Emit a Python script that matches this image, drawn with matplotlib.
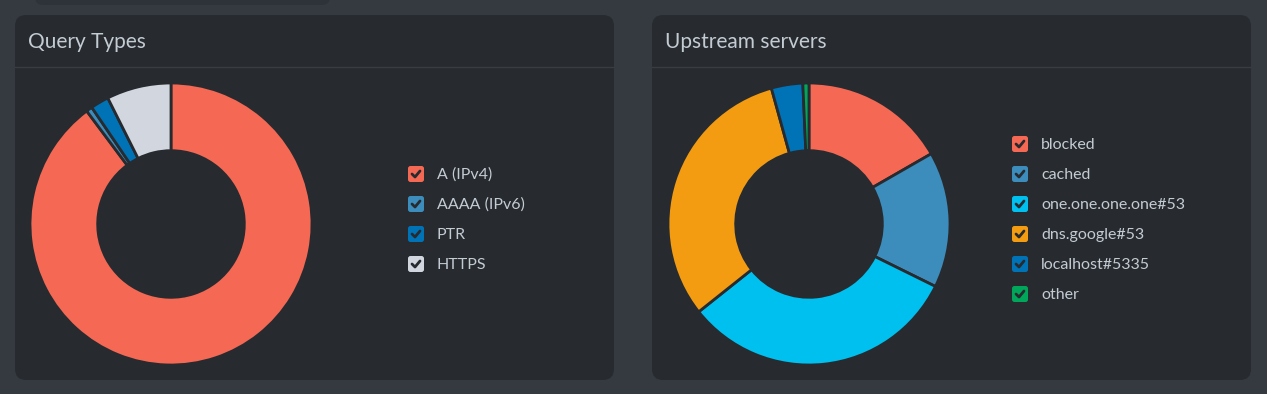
import matplotlib.pyplot as plt
from matplotlib.patches import FancyBboxPatch

# data
query_labels = ['A (IPv4)', 'AAAA (IPv6)', 'PTR', 'HTTPS']
query_values = [89.8, 0.7, 2.1, 7.4]
query_colors = ['#f56954', '#3c8dbc', '#0073b7', '#d2d6de']

upstream_labels = ['blocked', 'cached', 'one.one.one.one#53', 'dns.google#53',
                   'localhost#5335', 'other']
upstream_values = [16.7, 15.6, 32.0, 31.4, 3.6, 0.7]
upstream_colors = ['#f56954', '#3c8dbc', '#00c0ef', '#f39c12', '#0073b7', '#00a65a']

PAGE = '#353a41'
PANEL = '#272b30'
TEXT = '#c3cbd3'
W, H = 1267, 394

plt.rcParams['font.family'] = ['Lato', 'DejaVu Sans']

fig = plt.figure(figsize=(W / 100, H / 100), dpi=100, facecolor=PAGE)
bg = fig.add_axes([0, 0, 1, 1])
bg.set_xlim(0, W)
bg.set_ylim(H, 0)
bg.axis('off')

# remnant of panel above
bg.add_patch(FancyBboxPatch((35, -20), 295, 25, boxstyle='round,pad=0,rounding_size=8',
                            fc='#2e3339', ec='none'))


def panel(x0, x1, title):
    bg.add_patch(FancyBboxPatch((x0, 15), x1 - x0, 365,
                                boxstyle='round,pad=0,rounding_size=11',
                                fc=PANEL, ec='none'))
    bg.plot([x0, x1], [67, 67], color='#383d43', lw=1)
    bg.text(x0 + 13, 42, title, color=TEXT, fontsize=15, va='center', ha='left')


def legend(x, y0, labels, colors):
    for i, (lab, col) in enumerate(zip(labels, colors)):
        y = y0 + i * 30
        bg.add_patch(FancyBboxPatch((x, y - 8), 16, 16,
                                    boxstyle='round,pad=0,rounding_size=2.5',
                                    fc=col, ec='none'))
        bg.plot([x + 4, x + 7, x + 12], [y, y + 3, y - 3], color=PANEL,
                lw=2, solid_capstyle='round', solid_joinstyle='round')
        bg.text(x + 29, y + 1, lab, color=TEXT, fontsize=11.5, va='center', ha='left')


def donut(cx, cy, r, values, colors):
    ax = fig.add_axes([(cx - r) / W, 1 - (cy + r) / H, 2 * r / W, 2 * r / H])
    ax.pie(values, colors=colors, startangle=90, counterclock=False,
           wedgeprops=dict(width=0.48, edgecolor=PANEL, linewidth=2))
    ax.set_xlim(-1, 1)
    ax.set_ylim(-1, 1)
    ax.set_aspect('equal')
    ax.axis('off')


panel(15, 614, 'Query Types')
panel(652, 1251, 'Upstream servers')

donut(171, 224, 141, query_values, query_colors)
donut(809, 224, 141, upstream_values, upstream_colors)

legend(408, 174, query_labels, query_colors)
legend(1012, 144, upstream_labels, upstream_colors)

fig.savefig('out.png', dpi=100, facecolor=PAGE)
